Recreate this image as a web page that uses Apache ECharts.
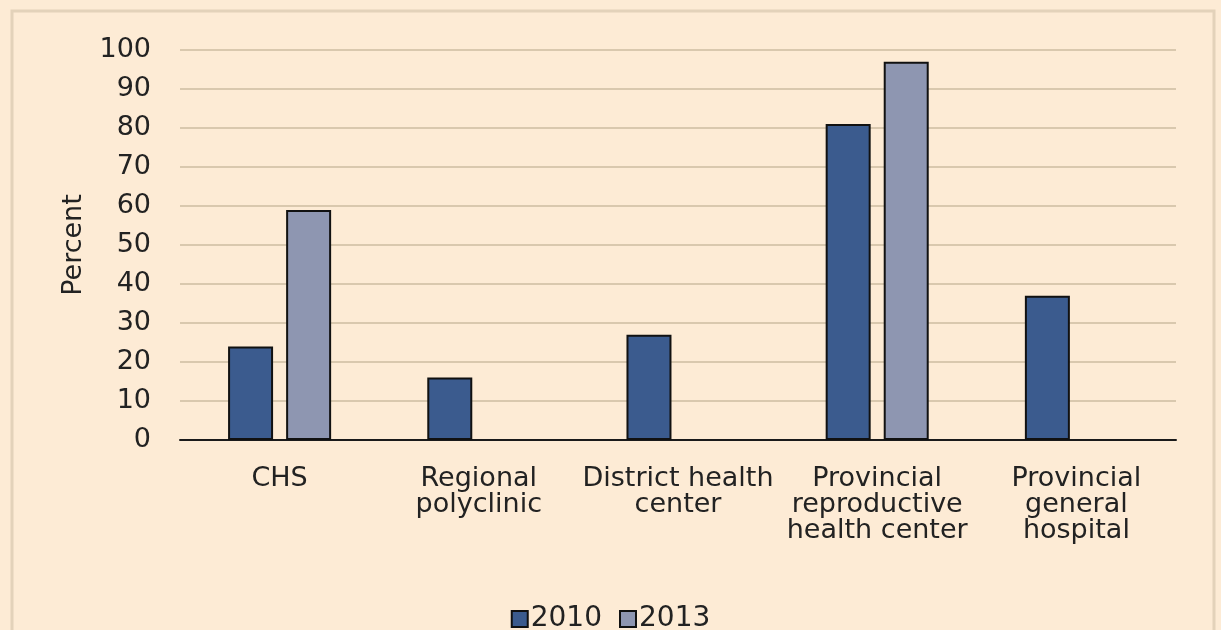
<!DOCTYPE html>
<html><head><meta charset="utf-8">
<script src="https://cdn.jsdelivr.net/npm/echarts@6/dist/echarts.min.js"></script>
<style>html,body{margin:0;padding:0;background:#FDEBD5;}#c{width:1221px;height:630px;}</style>
</head><body><div id="c"></div>
<script>
const categories = ['CHS', 'Regional\npolyclinic', 'District health\ncenter', 'Provincial\nreproductive\nhealth center', 'Provincial\ngeneral\nhospital'];
const series2010 = [24, 16, 27, 81, 37];
const series2013 = [59, null, null, 97, null];
const yTicks = {min: 0, max: 100, interval: 10};

const chart = echarts.init(document.getElementById('c'), null, {renderer: 'canvas'});
const font = 'DejaVu Sans, sans-serif';
const fs = 27;
chart.setOption({
  backgroundColor: '#FDEBD5',
  animation: false,
  graphic: [{
    type: 'rect', shape: {x: 12, y: 11, width: 1202, height: 640},
    style: {fill: 'none', stroke: '#E3D2BA', lineWidth: 3}, silent: true
  }],
  grid: {left: 180, right: 45, top: 50, bottom: 190},
  legend: {
    top: 600, left: 'center', itemWidth: 16, itemHeight: 16, itemGap: 17,
    textStyle: {fontFamily: font, fontSize: 28, color: '#222', padding: [0,0,0,-2]},
    itemStyle: {borderColor: '#111', borderWidth: 2},
    data: [{name: '2010', icon: 'rect'}, {name: '2013', icon: 'rect'}]
  },
  xAxis: {
    type: 'category', data: categories,
    axisLine: {lineStyle: {color: '#1a1a1a', width: 2}},
    axisTick: {show: false},
    axisLabel: {fontFamily: font, fontSize: fs, color: '#222', lineHeight: 26, margin: 26, interval: 0}
  },
  yAxis: {
    type: 'value', min: yTicks.min, max: yTicks.max, interval: yTicks.interval,
    name: 'Percent', nameLocation: 'middle', nameGap: 93,
    nameTextStyle: {fontFamily: font, fontSize: 27, color: '#222'},
    axisLine: {show: false}, axisTick: {show: false},
    axisLabel: {fontFamily: font, fontSize: fs, color: '#222', margin: 29, padding: [4, 0, 0, 0]},
    splitLine: {lineStyle: {color: '#D9C8AE', width: 2}}
  },
  series: [
    {name: '2010', type: 'bar', data: series2010, barWidth: 45, barGap: '29%',
     itemStyle: {color: '#3B5B8E', borderColor: '#111', borderWidth: 2}},
    {name: '2013', type: 'bar', data: series2013, barWidth: 45,
     itemStyle: {color: '#8E96B1', borderColor: '#111', borderWidth: 2}}
  ]
});
</script></body></html>
